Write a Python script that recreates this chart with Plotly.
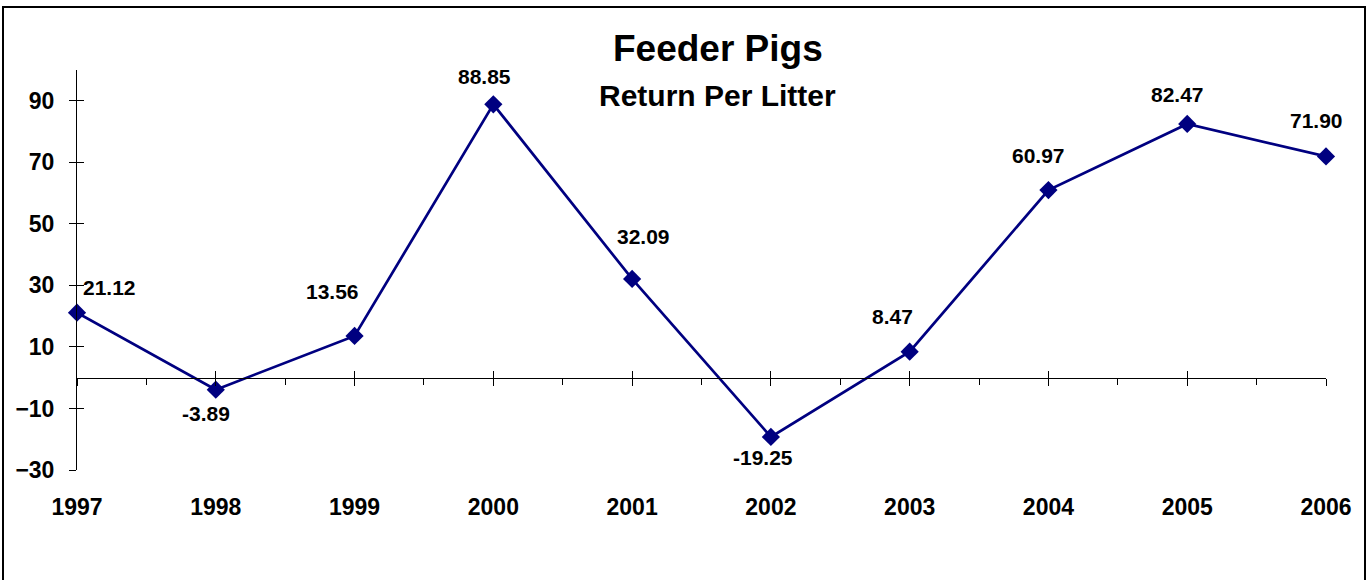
import plotly.graph_objects as go

years = [1997, 1998, 1999, 2000, 2001, 2002, 2003, 2004, 2005, 2006]
returns = [21.12, -3.89, 13.56, 88.85, 32.09, -19.25, 8.47, 60.97, 82.47, 71.90]
labels = ["21.12", "-3.89", "13.56", "88.85", "32.09", "-19.25", "8.47", "60.97", "82.47", "71.90"]
y_ticks = [-30, -10, 10, 30, 50, 70, 90]
title = "Feeder Pigs"
subtitle = "Return Per Litter"

# label offsets in screen pixels (dx right, dy up)
label_dx = [32, -10, -22, -9, 11, -8, -17, -10, -10, -10]
label_dy = [25, -24, 44, 28, 42, -21, 35, 35, 29, 36]

FONT = "Liberation Sans, Arial, sans-serif"
NAVY = "#000080"
Y_RANGE = [-30, 100]
X_RANGE = [1997, 2006]

fig = go.Figure()
fig.add_trace(go.Scatter(
    x=years, y=returns, mode="lines+markers",
    line=dict(color=NAVY, width=2.7),
    marker=dict(symbol="diamond", size=14, color=NAVY),
    cliponaxis=False, showlegend=False, hoverinfo="x+y",
))
# invisible helper traces so overlay axes render
fig.add_trace(go.Scatter(x=years, y=returns, xaxis="x2", yaxis="y", mode="markers",
                         marker=dict(opacity=0), showlegend=False, hoverinfo="skip"))
fig.add_trace(go.Scatter(x=years, y=returns, xaxis="x3", yaxis="y", mode="markers",
                         marker=dict(opacity=0), showlegend=False, hoverinfo="skip"))
fig.add_trace(go.Scatter(x=years, y=returns, xaxis="x", yaxis="y2", mode="markers",
                         marker=dict(opacity=0), showlegend=False, hoverinfo="skip"))

for x, y, t, dx, dy in zip(years, returns, labels, label_dx, label_dy):
    fig.add_annotation(x=x, y=y, text=t, showarrow=False, xshift=dx, yshift=dy,
                       xanchor="center", yanchor="middle",
                       font=dict(family=FONT, size=21, color="black", weight="bold"))

fig.add_annotation(xref="paper", yref="paper", x=0.513, y=1.053, text=title, showarrow=False,
                   xanchor="center", yanchor="middle",
                   font=dict(family=FONT, size=37, color="black", weight="bold"))
fig.add_annotation(xref="paper", yref="paper", x=0.513, y=0.9375, text=subtitle, showarrow=False,
                   xanchor="center", yanchor="middle",
                   font=dict(family=FONT, size=30, color="black", weight="bold"))

zero_pos = (0 - Y_RANGE[0]) / (Y_RANGE[1] - Y_RANGE[0])

fig.update_layout(
    width=1367, height=580,
    margin=dict(l=77, r=41, t=70, b=110),
    paper_bgcolor="white", plot_bgcolor="white",
    showlegend=False,
    xaxis=dict(range=X_RANGE, tickvals=years, ticktext=[str(y) for y in years],
               showline=False, showgrid=False, zeroline=False, ticks="", ticklabelstandoff=21,
               tickfont=dict(family=FONT, size=23, color="black", weight="bold")),
    xaxis2=dict(range=X_RANGE, overlaying="x", anchor="free", position=zero_pos,
                showline=True, linecolor="black", linewidth=1, showgrid=False, zeroline=False,
                tickmode="linear", tick0=1997, dtick=1, ticks="outside", ticklen=7,
                tickcolor="black", showticklabels=False,
                minor=dict(ticks="outside", ticklen=6, tickcolor="black", tick0=1997, dtick=0.5, showgrid=False)),
    xaxis3=dict(range=X_RANGE, overlaying="x", anchor="free", position=zero_pos,
                showline=False, showgrid=False, zeroline=False,
                tickmode="linear", tick0=1997, dtick=1, ticks="inside", ticklen=7,
                tickcolor="black", showticklabels=False),
    yaxis=dict(range=Y_RANGE, tickvals=y_ticks, showline=True, linecolor="black", linewidth=1,
               showgrid=False, zeroline=False, ticks="outside", ticklen=7, tickcolor="black",
               ticklabelstandoff=10,
               tickfont=dict(family=FONT, size=23, color="black", weight="bold")),
    yaxis2=dict(range=Y_RANGE, overlaying="y", side="left", tickvals=y_ticks,
                showline=False, showgrid=False, zeroline=False, ticks="inside", ticklen=7,
                tickcolor="black", showticklabels=False),
)

# outer chart border
fig.add_shape(type="rect", xref="paper", yref="paper",
              x0=(3 - 77) / 1249, x1=(1365 - 77) / 1249,
              y0=(470 - 590) / 400, y1=(470 - 7) / 400,
              line=dict(color="black", width=2), fillcolor="rgba(0,0,0,0)", layer="below")

fig.write_html("out.html", config={"displayModeBar": False},
               post_script="document.body.style.margin='0';document.body.style.overflow='hidden';")
